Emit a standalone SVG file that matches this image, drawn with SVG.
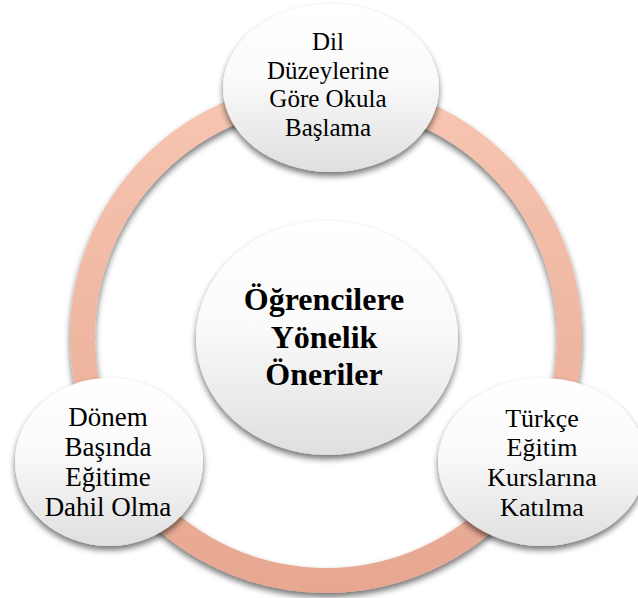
<svg xmlns="http://www.w3.org/2000/svg" width="638" height="598" viewBox="0 0 638 598">
  <defs>
    <linearGradient id="ringFill" gradientUnits="userSpaceOnUse" x1="0" y1="81" x2="0" y2="593">
      <stop offset="0" stop-color="#f7c6b2"/>
      <stop offset="1" stop-color="#e7a790"/>
    </linearGradient>
    <linearGradient id="bubbleFill" x1="0" y1="0" x2="0" y2="1">
      <stop offset="0" stop-color="#ffffff"/>
      <stop offset="0.45" stop-color="#fafafa"/>
      <stop offset="1" stop-color="#dfdfdf"/>
    </linearGradient>
    <filter id="dropShadow" x="-20%" y="-20%" width="140%" height="150%">
      <feGaussianBlur in="SourceAlpha" stdDeviation="3"/>
      <feOffset dx="0" dy="4" result="blur"/>
      <feComponentTransfer>
        <feFuncA type="linear" slope="0.55"/>
      </feComponentTransfer>
      <feMerge>
        <feMergeNode/>
        <feMergeNode in="SourceGraphic"/>
      </feMerge>
    </filter>
  </defs>
  <style>
    .bubble { fill: url(#bubbleFill); filter: url(#dropShadow); }
    text { font-family: "Liberation Serif", "Times New Roman", serif; fill: #000; text-anchor: middle; }
    .title { font-weight: bold; font-size: 32px; }
  </style>

  <rect width="638" height="598" fill="#ffffff"/>

  <!-- cycle ring linking the three items -->
  <g id="connectors">
    <circle cx="326" cy="337" r="243.5" fill="none" stroke="url(#ringFill)" stroke-width="25" filter="url(#dropShadow)"/>
  </g>

  <g id="center-node">
    <ellipse class="bubble" cx="327" cy="338" rx="131" ry="117"/>
    <text class="title" x="324" y="310">Öğrencilere</text>
    <text class="title" x="324" y="347.5">Yönelik</text>
    <text class="title" x="324" y="385">Öneriler</text>
  </g>

  <g id="node-top">
    <ellipse class="bubble" cx="331" cy="88" rx="108" ry="84"/>
    <text font-size="25" x="328" y="50">Dil</text>
    <text font-size="25" x="328" y="78.5">Düzeylerine</text>
    <text font-size="25" x="328" y="107">Göre Okula</text>
    <text font-size="25" x="328" y="135.5">Başlama</text>
  </g>

  <g id="node-left">
    <ellipse class="bubble" cx="109" cy="462" rx="94" ry="84"/>
    <text font-size="27" x="108" y="425.5">Dönem</text>
    <text font-size="27" x="108" y="455.5">Başında</text>
    <text font-size="27" x="108" y="485.5">Eğitime</text>
    <text font-size="27" x="108" y="515.5">Dahil Olma</text>
  </g>

  <g id="node-right">
    <ellipse class="bubble" cx="542" cy="462" rx="104" ry="84"/>
    <text font-size="26" x="542" y="426.5">Türkçe</text>
    <text font-size="26" x="542" y="456">Eğitim</text>
    <text font-size="26" x="542" y="486">Kurslarına</text>
    <text font-size="26" x="542" y="515.5">Katılma</text>
  </g>
</svg>
